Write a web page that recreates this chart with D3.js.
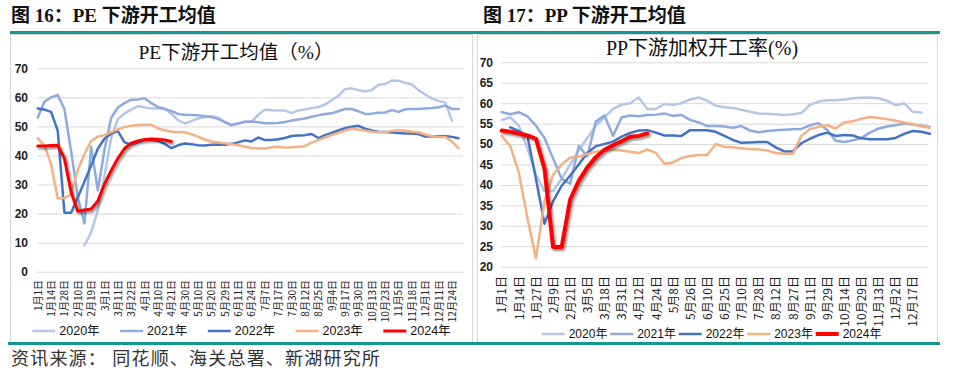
<!DOCTYPE html>
<html>
<head>
<meta charset="utf-8">
<script src="https://cdn.jsdelivr.net/npm/d3@7"></script>
<style>
body { margin: 0; background: #fff; }
svg { display: block; }
</style>
</head>
<body>
<div id="chart"></div>
<script>
// 年份 / 颜色
var years = ['2020年', '2021年', '2022年', '2023年', '2024年'];
var colors = ['#b4c7e7', '#8faadc', '#4472c4', '#f4b183', '#ff0000'];

// 图16 PE 下游开工均值 (每个标签之间两个数据点)
var pe_labels = ['1月1日', '1月14日', '1月28日', '2月10日', '2月19日', '3月1日', '3月11日', '3月22日',
    '4月1日', '4月10日', '4月21日', '4月30日', '5月10日', '5月20日', '5月29日', '6月11日',
    '6月24日', '7月7日', '7月17日', '7月30日', '8月12日', '8月25日', '9月4日', '9月17日',
    '9月30日', '10月13日', '10月23日', '11月5日', '11月18日', '12月1日', '12月11日', '12月24日'];
var pe_2020 = [null, null, null, null, null, null, null, 9, 13.5, 21, 33, 46, 52.5, 54.5, 55.8, 57,
    56.5, 56.2, 56.2, 56.2, 54.3, 52.2, 51, 51.8, 52.7, 53.2, 53.5, 53, 51.5, 50.4, 51, 51.5,
    51.6, 54, 55.7, 55.6, 55.5, 55.5, 54.6, 55.5, 55.8, 56.3, 56.7, 57.5, 59, 60.5, 62.8, 63.1,
    62.5, 62, 62.5, 64.3, 64.6, 65.8, 65.7, 65, 64.5, 62.5, 61, 59.6, 58.8, 58.2, 52, null];
var pe_2021 = [53, 58.5, 60, 60.8, 56, 41.5, 25.7, 16.6, 43, 28, 42, 53, 56.5, 58, 59.2, 59.3,
    59.7, 58, 56.7, 56, 55.3, 54.3, 54, 53.9, 53.8, 53.5, 53.2, 52.6, 51.5, 50.5, 51, 51.6,
    51.7, 51.4, 51.1, 51.1, 51.2, 51.5, 52, 52.4, 52.7, 53.3, 53.8, 54.3, 54.5, 55.2, 56, 56,
    55.2, 54.3, 54.4, 54.7, 54.8, 55.6, 55, 55.9, 56, 56, 56.2, 56.3, 56.6, 57.2, 56, 56];
var pe_2022 = [56.2, 55.8, 55, 48.5, 20.3, 20.3, 25.5, 31, 36.5, 42.3, 45.8, 47.5, 48.4, 44.5, 43.8, 44.5,
    45.3, 45.3, 45, 44, 42.5, 43.5, 44.1, 43.9, 43.5, 43.4, 43.7, 43.8, 43.7, 44, 44.5, 45.2,
    44.8, 46.2, 45.3, 45.3, 45.6, 46, 46.7, 46.9, 47, 47.4, 46, 47, 47.8, 48.6, 49.4, 49.9,
    50.2, 49.2, 48.6, 48.2, 48.1, 47.9, 47.7, 47.6, 47.6, 47.4, 46.5, 46.5, 46.6, 46.7, 46.4, 45.9];
var pe_2023 = [46, 43.5, 37, 25.2, 25.4, 26.5, 35, 40.5, 45, 46.5, 47, 48, 49, 49.8, 50.2, 50.5,
    50.6, 50.6, 49.3, 48.7, 48.2, 48, 48, 47.3, 46.5, 45.5, 44.8, 44.5, 44.2, 43.9, 43.5, 43.1,
    42.6, 42.4, 42.4, 42.8, 43, 42.7, 42.8, 43, 43.2, 44.4, 45.3, 46.2, 47, 47.8, 48.6, 49.2,
    48.9, 48.5, 48.2, 48, 48.1, 48.4, 48.7, 48.5, 48.2, 48, 47.2, 46.6, 46.4, 46.4, 44.8, 42.5];
var pe_2024 = [43.3, 43.3, 43.4, 43.5, 39, 27.4, 20.8, 21.2, 21.6, 24.3, 30.2, 34.8, 39, 42.4, 44.2, 45,
    45.5, 45.7, 45.6, 45.3, 44.8];
var pe_ticks = [0, 10, 20, 30, 40, 50, 60, 70];

// 图17 PP 下游加权开工率
var pp_labels = ['1月1日', '1月14日', '1月27日', '2月9日', '2月21日', '3月5日', '3月18日', '3月31日',
    '4月12日', '4月24日', '5月8日', '5月26日', '6月10日', '6月25日', '7月10日', '7月28日',
    '8月12日', '8月27日', '9月11日', '9月29日', '10月14日', '10月29日', '11月13日', '12月2日', '12月17日'];
var pp_2020 = [55.9, 56.5, 54.5, 49, 42.5, 38.5, 38.5, 41.5, 45, 48.5, 51.5, 54.5, 56.5, 58.6, 59.6, 60,
    61.4, 58.6, 58.6, 59.8, 59.6, 60, 60.9, 61.4, 60.6, 59.4, 59, 58.8, 58.4, 57.9, 57.5, 57.4,
    57.3, 57.1, 57.3, 57.6, 59.6, 60.4, 60.7, 60.7, 60.9, 61.2, 61.3, 61.4, 61.2, 60.6, 59.5, 60,
    57.9, 57.7, null];
var pp_2021 = [57.8, 57.3, 57.8, 56.8, 54.5, 51.5, 46.5, 41.5, 40.3, 49.5, 47, 55.5, 57, 52, 56.5, 57,
    56.8, 57.1, 57.2, 57.5, 56.9, 57.1, 55.9, 55.3, 54.4, 54.4, 54.3, 54, 54.4, 53.3, 52.9, 53.2,
    53.4, 53.5, 53.6, 53.7, 54.6, 55.1, 53.5, 50.8, 50.5, 50.9, 51.5, 52.8, 53.8, 54.3, 54.6, 55,
    54.8, 54.5, 54.2];
var pp_2022 = [null, 54.1, 53.2, 52, 41.5, 30.5, 36, 39.8, 42.3, 45, 47.8, 49.5, 50, 50.6, 51.8, 52.7,
    53.3, 53.4, 52.8, 52.1, 52.1, 52, 53.4, 53.4, 53.4, 53, 52, 51, 50.3, 50.4, 50.5, 50.5,
    49.2, 48.2, 48.2, 50.2, 51.3, 52.2, 52.8, 52, 52.2, 52.1, 51.4, 51.2, 51.2, 51.2, 51.5, 52.5,
    53.2, 53, 52.5];
var pp_2023 = [52, 49.5, 43, 32, 22, 36, 42.5, 45, 46.7, 46.9, 47.6, 48.1, 48.4, 48.6, 48.4, 48.1,
    47.8, 48.7, 47.8, 45.2, 45.5, 46.6, 47.1, 47.3, 47.3, 50, 49.3, 49.2, 49, 48.8, 48.7, 48.4,
    47.8, 47.6, 47.6, 52, 53.7, 54.2, 54.6, 53.8, 55.3, 55.6, 56.2, 56.6, 56.4, 56.1, 55.7, 55.3,
    54.9, 54.3, 54];
var pp_2024 = [53.3, 53, 52.6, 52.1, 51.3, 44, 24.8, 24.8, 36.5, 41, 44.3, 46.8, 48.6, 49.7, 50.7, 51.8,
    52, 52.6];
var pp_ticks = [20, 25, 30, 35, 40, 45, 50, 55, 60, 65, 70];

var teal = '#11978f';
var cjk = '"Noto Sans CJK SC", sans-serif';

var svg = d3.select('#chart')
    .append('svg')
    .attr('width', 955)
    .attr('height', 373);

// 红线阴影
svg.append('defs').append('filter')
    .attr('id', 'shadow')
    .attr('filterUnits', 'userSpaceOnUse')
    .attr('x', 0).attr('y', 0).attr('width', 955).attr('height', 373)
    .append('feDropShadow')
    .attr('dx', 1.5).attr('dy', 2)
    .attr('stdDeviation', 1.2)
    .attr('flood-color', '#000')
    .attr('flood-opacity', 0.45);

// 边框
svg.append('rect').attr('x', 10.5).attr('y', 34.5).attr('width', 462).attr('height', 308)
    .attr('fill', 'none').attr('stroke', '#d9d9d9');
svg.append('rect').attr('x', 477.5).attr('y', 34.5).attr('width', 460).attr('height', 308)
    .attr('fill', 'none').attr('stroke', '#d9d9d9');
svg.append('rect').attr('x', 10).attr('y', 31).attr('width', 930).attr('height', 3).attr('fill', teal);
svg.append('rect').attr('x', 8).attr('y', 342).attr('width', 932).attr('height', 3).attr('fill', teal);

// 图标题
svg.append('text').attr('x', 11).attr('y', 22)
    .attr('font-family', '"Liberation Serif", "Noto Sans CJK SC"')
    .attr('font-weight', 'bold').attr('font-size', 19).attr('fill', '#111')
    .text('图 16：PE 下游开工均值');
svg.append('text').attr('x', 483).attr('y', 22)
    .attr('font-family', '"Liberation Serif", "Noto Sans CJK SC"')
    .attr('font-weight', 'bold').attr('font-size', 19).attr('fill', '#111')
    .text('图 17：PP 下游开工均值');
svg.append('text').attr('x', 11).attr('y', 365)
    .attr('font-family', cjk).attr('font-size', 18).attr('fill', '#333')
    .attr('letter-spacing', 1.2)
    .text('资讯来源： 同花顺、海关总署、新湖研究所');

function panel(o) {
    var g = svg.append('g');
    var x = d3.scaleLinear()
        .domain([0, (o.labels.length - 1) * 2])
        .range(o.xRange);
    var y = d3.scaleLinear()
        .domain(o.yDomain)
        .range(o.yRange);

    // 标题
    g.append('text')
        .attr('x', o.titleX).attr('y', o.titleY)
        .attr('text-anchor', 'middle')
        .attr('font-family', '"Liberation Serif", "Noto Sans CJK SC"')
        .attr('font-size', o.titleSize).attr('fill', '#111')
        .text(o.title);

    // 网格和Y轴
    var gy = g.append('g')
        .attr('transform', 'translate(' + o.gridLeft + ',0)')
        .call(d3.axisLeft(y)
            .tickValues(o.yTicks)
            .tickSize(-(o.gridRight - o.gridLeft))
            .tickPadding(o.yPad));
    gy.select('.domain').remove();
    gy.selectAll('line').attr('stroke', '#d9d9d9');
    gy.attr('font-family', '"Liberation Sans", sans-serif').attr('font-size', 12);
    gy.selectAll('text').attr('font-weight', 'bold').attr('fill', '#222');

    // X轴标签
    var gx = g.append('g')
        .attr('transform', 'translate(0,' + o.xLabelTop + ')')
        .call(d3.axisBottom(x)
            .tickValues(o.labels.map(function (d, i) { return i * 2; }))
            .tickFormat(function (d) { return o.labels[d / 2]; })
            .tickSize(0));
    gx.select('.domain').remove();
    gx.attr('font-family', cjk).attr('font-size', o.xFont);
    gx.selectAll('text')
        .attr('transform', 'rotate(-90)')
        .attr('x', 0).attr('y', 0)
        .attr('dy', '0.35em')
        .attr('text-anchor', 'end')
        .attr('fill', '#222');

    // 折线
    var line = d3.line()
        .defined(function (d) { return d != null; })
        .x(function (d, i) { return x(i); })
        .y(function (d) { return y(d); });

    o.series.forEach(function (s, k) {
        var p = g.append('path')
            .attr('d', line(s))
            .attr('fill', 'none')
            .attr('stroke', colors[k])
            .attr('stroke-width', k == 4 ? o.redW : o.lineW)
            .attr('stroke-linejoin', 'round')
            .attr('stroke-linecap', 'round');
        if (k == 4) p.attr('filter', 'url(#shadow)');
    });

    // 图例
    var lg = g.selectAll('.leg')
        .data(years)
        .enter()
        .append('g')
        .attr('transform', function (d, i) {
            return 'translate(' + (o.legX + i * o.legStep) + ',' + o.legY + ')';
        });
    lg.append('line')
        .attr('x1', 0).attr('x2', o.legLen)
        .attr('stroke', function (d, i) { return colors[i]; })
        .attr('stroke-width', function (d, i) { return i == 4 ? o.redW : o.lineW; });
    lg.append('text')
        .attr('x', o.legLen + 4)
        .attr('dy', '0.35em')
        .attr('font-family', '"Liberation Sans", "Noto Sans CJK SC"')
        .attr('font-size', o.legFont)
        .attr('fill', '#111')
        .text(function (d) { return d; });
}

panel({
    title: 'PE下游开工均值（%）', titleX: 236, titleY: 59, titleSize: 19.5,
    labels: pe_labels,
    series: [pe_2020, pe_2021, pe_2022, pe_2023, pe_2024],
    xRange: [37.7, 451.9],
    yDomain: [0, 70], yRange: [271.7, 68.3], yTicks: pe_ticks, yPad: 9,
    gridLeft: 37, gridRight: 463,
    xLabelTop: 280, xFont: 10,
    lineW: 2.5, redW: 3,
    legX: 32.3, legStep: 87.75, legY: 331, legLen: 23, legFont: 12.5
});

panel({
    title: 'PP下游加权开工率(%)', titleX: 702, titleY: 55, titleSize: 20,
    labels: pp_labels,
    series: [pp_2020, pp_2021, pp_2022, pp_2023, pp_2024],
    xRange: [501.7, 912.7],
    yDomain: [20, 70], yRange: [266.7, 62.3], yTicks: pp_ticks, yPad: 8,
    gridLeft: 501, gridRight: 928,
    xLabelTop: 276, xFont: 12,
    lineW: 2.5, redW: 4,
    legX: 541.7, legStep: 68.5, legY: 334, legLen: 23, legFont: 12
});
</script>
</body>
</html>
